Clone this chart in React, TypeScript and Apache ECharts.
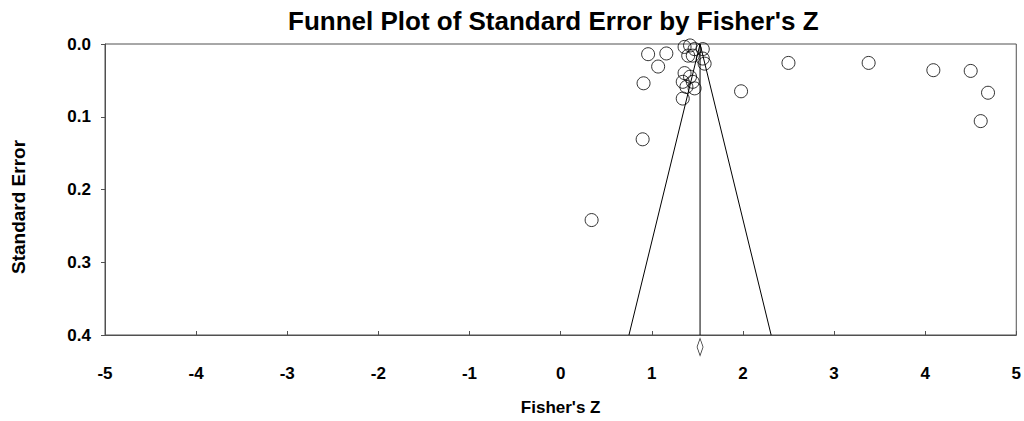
import React, { useEffect, useRef } from "react";
import * as echarts from "echarts";

// Study effects (Fisher's Z) and their standard errors
const fisherZ = [
  0.34, 0.9, 0.91, 0.96, 1.16, 1.07, 2.5, 1.98, 3.38, 4.09, 4.5, 4.69, 4.61,
  1.36, 1.42, 1.47, 1.56, 1.4, 1.45, 1.56, 1.58, 1.36, 1.42, 1.34, 1.45, 1.38,
  1.47, 1.34,
];
const standardError = [
  0.242, 0.131, 0.054, 0.014, 0.013, 0.031, 0.026, 0.065, 0.026, 0.036, 0.037,
  0.067, 0.106, 0.004, 0.002, 0.007, 0.007, 0.016, 0.016, 0.02, 0.027, 0.04,
  0.045, 0.052, 0.052, 0.059, 0.061, 0.075,
];

// Pooled estimate and funnel (95% pseudo-confidence limits)
const pooledZ = [1.53, 1.53];
const funnelSE = [0, 0.4];
const funnelLeftZ = [1.53, 0.75];
const funnelRightZ = [1.53, 2.31];
const diamondZ = [1.53];

// Axis ticks
const xTicks = [-5, 5, 1];
const yTicks = [0, 0.4, 0.1];

const FONT = "'Liberation Sans', Arial, sans-serif";

export default function App() {
  const ref = useRef<HTMLDivElement>(null);

  useEffect(() => {
    document.body.style.margin = "0";
    if (!ref.current) return;
    const chart = echarts.init(ref.current, null, { renderer: "svg" });
    const pts = fisherZ.map((z, i) => [z, standardError[i]]);
    chart.setOption({
      animation: false,
      backgroundColor: "#ffffff",
      textStyle: { fontFamily: FONT },
      title: {
        text: "Funnel Plot of Standard Error by Fisher's Z",
        left: 283,
        top: 3,
        textStyle: {
          fontFamily: FONT,
          fontSize: 26,
          fontWeight: "bold",
          color: "#000",
        },
      },
      grid: {
        left: 105,
        right: 2,
        top: 44,
        bottom: 83,
        show: true,
        borderColor: "#505050",
        borderWidth: 1,
        backgroundColor: "transparent",
      },
      xAxis: {
        type: "value",
        min: xTicks[0],
        max: xTicks[1],
        interval: xTicks[2],
        name: "Fisher's Z",
        nameLocation: "middle",
        nameGap: 64,
        nameTextStyle: {
          fontFamily: FONT,
          fontSize: 17,
          fontWeight: "bold",
          color: "#000",
        },
        axisLine: { show: true, onZero: false, lineStyle: { color: "#505050", width: 1 } },
        axisTick: { show: true, inside: true, length: 4, lineStyle: { color: "#505050" } },
        splitLine: { show: false },
        axisLabel: {
          margin: 30,
          fontFamily: FONT,
          fontSize: 17,
          fontWeight: "bold",
          color: "#000",
          formatter: (v: number) => String(v),
        },
      },
      yAxis: {
        type: "value",
        inverse: true,
        min: yTicks[0],
        max: yTicks[1],
        interval: yTicks[2],
        axisLine: { show: true, onZero: false, lineStyle: { color: "#505050", width: 1 } },
        axisTick: { show: true, inside: false, length: 4, lineStyle: { color: "#505050" } },
        splitLine: { show: false },
        axisLabel: {
          margin: 14,
          fontFamily: FONT,
          fontSize: 17,
          fontWeight: "bold",
          color: "#000",
          formatter: (v: number) => v.toFixed(1),
        },
      },
      graphic: [
        {
          type: "text",
          x: 18,
          y: 207,
          rotation: Math.PI / 2,
          style: {
            text: "Standard Error",
            fontFamily: FONT,
            fontSize: 19,
            fontWeight: "bold",
            fill: "#000",
            textAlign: "center",
            textVerticalAlign: "middle",
          },
        },
      ],
      series: [
        {
          type: "line",
          data: funnelSE.map((s, i) => [funnelLeftZ[i], s]),
          symbol: "none",
          lineStyle: { color: "#000", width: 1 },
          silent: true,
        },
        {
          type: "line",
          data: funnelSE.map((s, i) => [funnelRightZ[i], s]),
          symbol: "none",
          lineStyle: { color: "#000", width: 1 },
          silent: true,
        },
        {
          type: "line",
          data: funnelSE.map((s, i) => [pooledZ[i], s]),
          symbol: "none",
          lineStyle: { color: "#000", width: 1 },
          silent: true,
        },
        {
          type: "scatter",
          data: pts,
          symbol: "circle",
          symbolSize: 13,
          itemStyle: {
            color: "rgba(255,255,255,0)",
            borderColor: "#000",
            borderWidth: 1,
          },
        },
        {
          type: "scatter",
          data: diamondZ.map((z) => [z, yTicks[1]]),
          symbol: "diamond",
          symbolSize: [6, 17],
          symbolOffset: [0, 12],
          clip: false,
          itemStyle: {
            color: "#ffffff",
            borderColor: "#000",
            borderWidth: 1,
          },
        },
      ],
    });
    return () => chart.dispose();
  }, []);

  return <div ref={ref} style={{ width: 1024, height: 421 }} />;
}
